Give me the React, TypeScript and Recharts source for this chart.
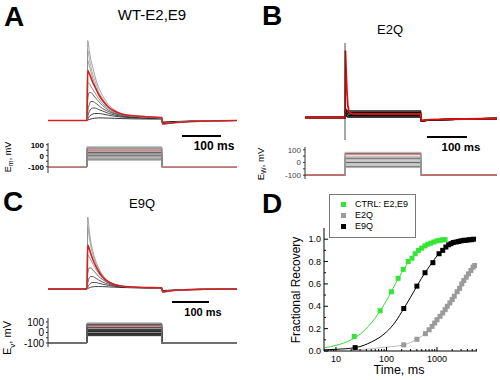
import React from "react";
import { LineChart, Line, XAxis, YAxis, ComposedChart, Scatter } from "recharts";

const FONT = "'Liberation Sans', Arial, Helvetica, sans-serif";

// ---- A: WT-E2,E9 current family (time in ms, amplitude in trace units) ----
const timeA = [0, 100, 102, 106, 110, 115, 120, 130, 140, 155, 170, 190, 215, 250, 292, 294, 310, 340, 400, 485];
const wtGray1 = [0, 0, 80, 70, 61, 53, 45, 33, 25, 16, 11, 6, 4.5, 3.5, 2.5, -3, -2.5, -1.5, -0.5, 0];
const wtGray2 = [0, 0, 70, 62, 54, 46, 40, 29, 22, 14, 9.5, 5.8, 4.4, 3.3, 2.4, -3, -2.5, -1.5, -0.5, 0];
const wtGray3 = [0, 0, 60, 55, 49, 42, 36, 27, 20.5, 13.5, 9.5, 6.2, 4.6, 3.5, 2.6, -3, -2.5, -1.5, -0.5, 0];
const wtRed = [0, 0, 50, 47, 43, 38, 34, 26, 20, 13.5, 9.5, 6.5, 5, 3.8, 3, -3.5, -2.8, -1.7, -0.6, 0];
const wtGray4 = [0, 0, 38, 37, 34, 31, 28, 22, 17, 12, 8.5, 6, 4.6, 3.5, 2.7, -3, -2.5, -1.5, -0.5, 0];
const wtDark1 = [0, 0, 22, 28, 28, 26, 23.5, 19, 15, 10.5, 7.5, 5.5, 4.2, 3.2, 2.5, -3, -2.5, -1.5, -0.5, 0];
const wtBlk1 = [0, 0, 9, 16, 19, 19, 18, 15, 12, 9, 6.8, 5, 3.8, 3, 2.3, -3, -2.5, -1.5, -0.5, 0];
const wtBlk2 = [0, 0, 4, 9, 11.5, 12.5, 12.5, 11, 9.5, 7.2, 5.6, 4.2, 3.3, 2.6, 2.1, -2.5, -2, -1.2, -0.4, 0];
const wtBlk3 = [0, 0, 1.5, 4, 5.5, 6.5, 7, 7, 6.5, 5.3, 4.3, 3.4, 2.8, 2.3, 1.9, -2, -1.6, -1, -0.3, 0];
const wtBlk4 = [0, 0, 0.5, 1, 1.5, 2, 2.3, 2.6, 2.6, 2.4, 2.2, 1.9, 1.7, 1.5, 1.4, -1.5, -1.2, -0.8, -0.3, 0];

// ---- B: E2Q ----
const timeB = [0, 100, 101, 103, 105, 107, 110, 115, 130, 200, 289, 291, 310, 400, 480];
const e2Red = [0, 0, 67, 45, 25, 12, 6, 4, 3.5, 3.5, 3.5, -3, -2.2, -1.5, -1];
const e2Blk1 = [0, 0, 1, 2, 1, 0.5, 0.5, 0.5, 0.5, 0.5, 0.5, -3.5, -2.5, -1.5, -1];
const e2Blk2 = [0, 0, 3, 4, 3, 2.5, 2, 2, 2, 2, 2, -3.5, -2.5, -1.5, -1];
const e2Blk3 = [0, 0, 5, 6, 4.5, 4, 3.5, 3.5, 3.5, 3.5, 3.5, -3.5, -2.5, -1.5, -1];
const e2Blk4 = [0, 0, 7, 7, 6, 5.5, 5, 5, 5, 5, 5, -3.5, -2.5, -1.5, -1];
const e2Blk5 = [0, 0, 9, 8, 7, 6.5, 6.5, 6.5, 6.5, 6.5, 6.5, -3.5, -2.5, -1.5, -1];
const spikeTime = [100, 100];
const spikeAmp = [74.5, -22.5];

// ---- C: E9Q ----
const timeC = [0, 100, 102, 106, 110, 115, 120, 130, 140, 155, 170, 190, 215, 250, 292, 294, 310, 340, 400, 485];
const e9Gray1 = [0, 0, 72, 58, 47, 38, 31, 21, 14, 8, 5, 3, 2, 1.5, 1.2, -3, -2, -1, -0.3, 0];
const e9Gray2 = [0, 0, 62, 51, 42, 34, 28, 19, 13, 7.5, 4.7, 2.9, 2, 1.5, 1.2, -3, -2, -1, -0.3, 0];
const e9Red = [0, 0, 44, 40, 35, 29.5, 25, 17.5, 12, 7, 4.5, 2.8, 2, 1.5, 1.2, -3, -2, -1, -0.3, 0];
const e9Gray3 = [0, 0, 34, 32, 29, 25, 21.5, 15.5, 11, 6.5, 4.3, 2.7, 1.9, 1.4, 1.1, -2.5, -1.8, -1, -0.3, 0];
const e9Dark1 = [0, 0, 16, 21, 21, 19, 17, 12.5, 9.5, 6, 4, 2.6, 1.9, 1.4, 1.1, -2.5, -1.8, -1, -0.3, 0];
const e9Blk1 = [0, 0, 6, 11, 12.5, 12.5, 11.5, 9, 7, 4.8, 3.4, 2.3, 1.7, 1.3, 1.1, -2.5, -1.8, -1, -0.3, 0];
const e9Blk2 = [0, 0, 2, 4.5, 6, 6.5, 6.5, 5.8, 4.8, 3.6, 2.7, 2, 1.5, 1.2, 1, -2, -1.5, -0.8, -0.3, 0];
const e9Blk3 = [0, 0, 0.5, 1.2, 1.8, 2.2, 2.4, 2.5, 2.4, 2.1, 1.8, 1.5, 1.2, 1, 0.9, -1.5, -1.2, -0.6, -0.2, 0];

// ---- voltage protocols (mV) ----
const pulseA = [0, 100, 100, 292, 292, 485];
const pulseB = [0, 100, 100, 290, 290, 480];
const pulseC = [0, 100, 100, 292, 292, 485];
const holdingMv = -100;
const levelsA = [-40, -30, -20, -10, 0, 10, 20, 30, 40, 60, 70, 80];
const levelsB = [-40, -30, -20, -10, 0, 10, 20, 30, 40, 50, 70, 80];
const levelsC = [-30, -20, -10, 0, 10, 20, 30, 40, 50, 70, 80, 90];
const redMvA = 50;
const redMvB = 65;
const redMvC = 60;
const mvTicks = [-100, -50, 0, 50, 100];

// ---- D: recovery (ms, fraction) ----
const ctrlTime = [23, 75, 125, 170, 215, 270, 320, 370, 430, 500, 580, 660, 760, 870, 1000, 1150, 1300, 1450];
const ctrlFrac = [0.13, 0.36, 0.53, 0.65, 0.73, 0.8, 0.83, 0.87, 0.9, 0.92, 0.94, 0.955, 0.965, 0.975, 0.985, 0.99, 0.995, 0.995];
const ctrlFitTime = [6, 10, 20, 30, 50, 75, 100, 150, 200, 300, 500, 700, 1000, 1500];
const ctrlFitFrac = [0.03, 0.05, 0.1, 0.15, 0.25, 0.36, 0.45, 0.6, 0.7, 0.82, 0.92, 0.96, 0.98, 0.995];

const e2qTime = [24, 220, 400, 590, 700, 800, 900, 1000, 1150, 1300, 1450, 1600, 1800, 2000, 2200, 2500, 2800, 3100, 3400, 3800, 4200, 4700, 5200, 5600];
const e2qFrac = [0.01, 0.055, 0.105, 0.155, 0.19, 0.22, 0.25, 0.28, 0.31, 0.34, 0.37, 0.4, 0.43, 0.46, 0.49, 0.53, 0.56, 0.6, 0.63, 0.66, 0.69, 0.72, 0.75, 0.765];
const e2qFitTime = [20, 50, 100, 220, 400, 600, 1000, 1500, 2000, 3000, 4000, 5600];
const e2qFitFrac = [0.005, 0.02, 0.035, 0.055, 0.105, 0.16, 0.27, 0.37, 0.46, 0.59, 0.68, 0.77];

const e9qTime = [24, 220, 400, 580, 830, 1100, 1300, 1500, 1700, 1900, 2100, 2400, 2700, 3000, 3400, 3800, 4300, 4800, 5300];
const e9qFrac = [0.03, 0.38, 0.58, 0.7, 0.79, 0.87, 0.9, 0.93, 0.95, 0.96, 0.97, 0.975, 0.98, 0.985, 0.99, 0.99, 0.995, 0.995, 1.0];
const e9qFitTime = [6, 10, 24, 50, 100, 150, 220, 300, 400, 600, 800, 1000, 1500, 2000, 3000, 5500];
const e9qFitFrac = [0.01, 0.015, 0.03, 0.08, 0.17, 0.26, 0.38, 0.48, 0.58, 0.71, 0.79, 0.85, 0.93, 0.96, 0.985, 1.0];

const logTicks = [6, 7, 8, 9, 10, 20, 30, 40, 50, 60, 70, 80, 90, 100, 200, 300, 400, 500, 600, 700, 800, 900, 1000, 2000, 3000, 4000, 5000, 6000];
const decades = [10, 100, 1000];
const fracTicks = [0, 0.1, 0.2, 0.3, 0.4, 0.5, 0.6, 0.7, 0.8, 0.9, 1.0];

type Row = Record<string, number | null>;

function toRows(times: number[], series: Record<string, number[]>): Row[] {
  return times.map((t, i) => {
    const row: Row = { t };
    Object.keys(series).forEach((k) => {
      row[k] = series[k][i];
    });
    return row;
  });
}

const toPoints = (xs: number[], ys: number[]) => xs.map((t, i) => ({ t, f: ys[i] }));

interface TraceStyle {
  key: string;
  color: string;
  width: number;
}

function Traces(props: {
  left: number;
  top: number;
  width: number;
  height: number;
  xMax: number;
  yDomain: [number, number];
  rows: Row[];
  styles: TraceStyle[];
  curve: "monotone" | "linear";
  extra?: React.ReactNode;
}) {
  const { left, top, width, height, xMax, yDomain, rows, styles, curve, extra } = props;
  return (
    <div style={{ position: "absolute", left, top }}>
      <LineChart width={width} height={height} data={rows} margin={{ top: 0, right: 0, bottom: 0, left: 0 }}>
        <XAxis type="number" dataKey="t" domain={[0, xMax]} hide allowDataOverflow />
        <YAxis type="number" domain={yDomain} hide allowDataOverflow />
        {styles.map((s) => (
          <Line
            key={s.key}
            type={curve}
            dataKey={s.key}
            stroke={s.color}
            strokeWidth={s.width}
            dot={false}
            isAnimationActive={false}
          />
        ))}
        {extra}
      </LineChart>
    </div>
  );
}

function Steps(props: {
  plotLeft: number;
  top: number;
  width: number;
  height: number;
  xMax: number;
  yDomain: [number, number];
  times: number[];
  levels: number[];
  redLevel: number;
  levelColor: (i: number) => string;
  holdColor: string;
  redColor: string;
  tickFont: { fontSize: number; fontWeight: string | number; fill: string };
}) {
  const { plotLeft, top, width, height, xMax, yDomain, times, levels, redLevel, levelColor, holdColor, redColor, tickFont } =
    props;
  const axisW = 30;
  const pad = 7;
  const rows = times.map((t, i) => {
    const inPulse = i === 2 || i === 3;
    const row: Row = { t, hold: inPulse ? null : holdingMv, red: inPulse ? redLevel : null };
    levels.forEach((L, j) => {
      row["L" + j] = inPulse ? L : holdingMv;
    });
    return row;
  });
  return (
    <div style={{ position: "absolute", left: plotLeft - axisW, top: top - pad }}>
      <LineChart
        width={width + axisW}
        height={height + 2 * pad}
        data={rows}
        margin={{ top: pad, right: 0, bottom: pad, left: 0 }}
      >
        <XAxis type="number" dataKey="t" domain={[0, xMax]} hide allowDataOverflow />
        <YAxis
          type="number"
          domain={yDomain}
          allowDataOverflow
          ticks={mvTicks}
          interval={0}
          width={axisW}
          tickSize={2}
          tickMargin={2}
          axisLine={{ stroke: "#333" }}
          tickLine={{ stroke: "#333" }}
          tickFormatter={(v: number) => (v % 100 === 0 ? String(v) : "")}
          tick={{ ...tickFont, fontFamily: FONT }}
        />
        {levels.map((_, j) => (
          <Line
            key={j}
            type="linear"
            dataKey={"L" + j}
            stroke={levelColor(j)}
            strokeWidth={1}
            dot={false}
            isAnimationActive={false}
          />
        ))}
        <Line type="linear" dataKey="red" stroke={redColor} strokeWidth={1} dot={false} isAnimationActive={false} />
        <Line type="linear" dataKey="hold" stroke={holdColor} strokeWidth={1} dot={false} isAnimationActive={false} />
      </LineChart>
    </div>
  );
}

function Txt(props: { x: number; y: number; size: number; bold?: boolean; rotate?: boolean; children: React.ReactNode }) {
  const { x, y, size, bold, rotate, children } = props;
  return (
    <div
      style={{
        position: "absolute",
        left: x,
        top: y,
        transform: `translate(-50%, -50%)${rotate ? " rotate(-90deg)" : ""}`,
        fontFamily: FONT,
        fontSize: size,
        fontWeight: bold ? "bold" : "normal",
        whiteSpace: "nowrap",
        lineHeight: 1.15,
        color: "#000",
      }}
    >
      {children}
    </div>
  );
}

const Letter = ({ x, y, ch }: { x: number; y: number; ch: string }) => (
  <div
    style={{ position: "absolute", left: x, top: y, fontFamily: FONT, fontSize: 28, fontWeight: "bold", lineHeight: "32px" }}
  >
    {ch}
  </div>
);

const Bar = ({ x, y, w }: { x: number; y: number; w: number }) => (
  <div style={{ position: "absolute", left: x, top: y, width: w, height: 2, background: "#000" }} />
);

const LogTick = (p: any) => {
  const v = p.payload.value;
  const major = decades.includes(v);
  return (
    <g>
      <line x1={p.x} x2={p.x} y1={p.y} y2={p.y - (major ? 4 : 2)} stroke="#000" />
      {major && (
        <text x={p.x} y={p.y + 11} textAnchor="middle" fontSize={9} fontFamily={FONT} fill="#000">
          {v}
        </text>
      )}
    </g>
  );
};

const FracTick = (p: any) => {
  const v = p.payload.value;
  const major = Math.round(v * 10) % 2 === 0;
  return (
    <g>
      <line x1={p.x} x2={p.x + (major ? 4 : 2)} y1={p.y} y2={p.y} stroke="#000" />
      {major && (
        <text x={p.x - 3} y={p.y + 3} textAnchor="end" fontSize={9} fontFamily={FONT} fill="#000">
          {v.toFixed(1)}
        </text>
      )}
    </g>
  );
};

const square = (color: string) => (p: any) => (
  <rect x={p.cx - 2.5} y={p.cy - 2.5} width={5} height={5} fill={color} />
);

export default function App() {
  const rowsA = toRows(timeA, {
    g1: wtGray1, g2: wtGray2, g3: wtGray3, g4: wtGray4, d1: wtDark1,
    b1: wtBlk1, b2: wtBlk2, b3: wtBlk3, b4: wtBlk4, r: wtRed,
  });
  const rowsC = toRows(timeC, {
    g1: e9Gray1, g2: e9Gray2, g3: e9Gray3, d1: e9Dark1,
    b1: e9Blk1, b2: e9Blk2, b3: e9Blk3, r: e9Red,
  });
  const rowsB = toRows(timeB, { b1: e2Blk1, b2: e2Blk2, b3: e2Blk3, b4: e2Blk4, b5: e2Blk5, r: e2Red });
  const spike = spikeTime.map((t, i) => ({ t, sp: spikeAmp[i] }));

  const familyStyles: TraceStyle[] = [
    { key: "b4", color: "#000", width: 0.8 },
    { key: "b3", color: "#111", width: 0.8 },
    { key: "b2", color: "#222", width: 0.8 },
    { key: "b1", color: "#333", width: 0.8 },
    { key: "d1", color: "#444", width: 0.8 },
    { key: "g4", color: "#777", width: 0.8 },
    { key: "g3", color: "#888", width: 0.8 },
    { key: "g2", color: "#999", width: 0.8 },
    { key: "g1", color: "#8a8a8a", width: 0.8 },
    { key: "r", color: "#d42020", width: 1.6 },
  ];

  return (
    <div style={{ position: "absolute", left: 0, top: 0, width: 500, height: 380, background: "#fff", overflow: "hidden" }}>
      {/* Panel A */}
      <Letter x={4} y={1} ch="A" />
      <Txt x={152} y={15} size={15}>WT-E2,E9</Txt>
      <Traces
        left={48} top={30} width={189} height={100} xMax={485} yDomain={[-9.5, 90.5]}
        rows={rowsA} styles={familyStyles} curve="monotone"
      />
      <Bar x={182} y={135} w={39} />
      <Txt x={214} y={147} size={12} bold>100 ms</Txt>
      <Steps
        plotLeft={48} top={143} width={189} height={30} xMax={485} yDomain={[-157, 115.5]}
        times={pulseA} levels={levelsA} redLevel={redMvA}
        levelColor={(j) => (j % 3 === 1 ? "#555" : "#999")}
        holdColor="#f08080" redColor="#e05050"
        tickFont={{ fontSize: 8, fontWeight: "bold", fill: "#000" }}
      />
      <Txt x={9} y={157} size={9} rotate>E<sub style={{ fontSize: 7 }}>m</sub>, mV</Txt>

      {/* Panel B */}
      <Letter x={262} y={0} ch="B" />
      <Txt x={390} y={30} size={13}>E2Q</Txt>
      <Traces
        left={305} top={35} width={192} height={110} xMax={480} yDomain={[-27.5, 82.5]}
        rows={rowsB}
        styles={[
          { key: "b1", color: "#000", width: 1.3 },
          { key: "b2", color: "#000", width: 1.3 },
          { key: "b3", color: "#111", width: 1.3 },
          { key: "b4", color: "#000", width: 1.3 },
          { key: "b5", color: "#222", width: 1.3 },
          { key: "r", color: "#dd1010", width: 1.8 },
        ]}
        curve="linear"
        extra={
          <Line data={spike} type="linear" dataKey="sp" stroke="#222" strokeWidth={0.8} dot={false} isAnimationActive={false} />
        }
      />
      <Bar x={427} y={136} w={40} />
      <Txt x={461} y={148} size={11.5} bold>100 ms</Txt>
      <Steps
        plotLeft={305} top={147} width={192} height={32} xMax={480} yDomain={[-130, 122]}
        times={pulseB} levels={levelsB} redLevel={redMvB}
        levelColor={(j) => (j % 3 === 1 ? "#666" : "#aaa")}
        holdColor="#e05050" redColor="#e06060"
        tickFont={{ fontSize: 8, fontWeight: "normal", fill: "#444" }}
      />
      <Txt x={262} y={164} size={9.5} rotate>E<sub style={{ fontSize: 7 }}>W</sub>, mV</Txt>

      {/* Panel C */}
      <Letter x={3} y={186} ch="C" />
      <Txt x={142} y={204} size={13}>E9Q</Txt>
      <Traces
        left={48} top={210} width={189} height={90} xMax={485} yDomain={[-11, 79]}
        rows={rowsC} styles={familyStyles.filter((s) => s.key !== "b4" && s.key !== "g4")} curve="monotone"
      />
      <Bar x={172} y={301} w={37} />
      <Txt x={203} y={312} size={11} bold>100 ms</Txt>
      <Steps
        plotLeft={48} top={318} width={189} height={29} xMax={485} yDomain={[-138, 138]}
        times={pulseC} levels={levelsC} redLevel={redMvC}
        levelColor={(j) => (j % 4 === 3 ? "#888" : "#222")}
        holdColor="#888" redColor="#e06070"
        tickFont={{ fontSize: 10, fontWeight: "normal", fill: "#000" }}
      />
      <Txt x={9} y={338} size={11} rotate>E<sub style={{ fontSize: 8 }}>v</sub>, mV</Txt>

      {/* Panel D */}
      <Letter x={262} y={188} ch="D" />
      <div style={{ position: "absolute", left: 284, top: 218 }}>
        <ComposedChart width={203} height={163} margin={{ top: 10, right: 10, bottom: 0, left: 0 }}>
          <XAxis
            type="number" dataKey="t" scale="log" domain={[5.8, 6200]} allowDataOverflow
            ticks={logTicks} interval={0} tick={(p: any) => <LogTick {...p} />}
            tickLine={false} tickSize={0} tickMargin={0} height={30} axisLine={{ stroke: "#000" }}
          />
          <YAxis
            type="number" dataKey="f" domain={[0, 1.1]} allowDataOverflow
            ticks={fracTicks} interval={0} tick={(p: any) => <FracTick {...p} />}
            tickLine={false} tickSize={0} tickMargin={0} width={40} axisLine={{ stroke: "#000" }}
          />
          <Line data={toPoints(e2qFitTime, e2qFitFrac)} type="monotone" dataKey="f" stroke="#bbb" strokeWidth={1} dot={false} isAnimationActive={false} />
          <Line data={toPoints(e9qFitTime, e9qFitFrac)} type="monotone" dataKey="f" stroke="#000" strokeWidth={1} dot={false} isAnimationActive={false} />
          <Line data={toPoints(ctrlFitTime, ctrlFitFrac)} type="monotone" dataKey="f" stroke="#33dd33" strokeWidth={1} dot={false} isAnimationActive={false} />
          <Scatter data={toPoints(e2qTime, e2qFrac)} dataKey="f" shape={square("#9a9a9a")} isAnimationActive={false} />
          <Scatter data={toPoints(e9qTime, e9qFrac)} dataKey="f" shape={square("#000")} isAnimationActive={false} />
          <Scatter data={toPoints(ctrlTime, ctrlFrac)} dataKey="f" shape={square("#33e633")} isAnimationActive={false} />
        </ComposedChart>
      </div>
      <Txt x={297} y={290} size={12} rotate>Fractional Recovery</Txt>
      <Txt x={399} y={370} size={12.5}>Time, ms</Txt>
      <div
        style={{
          position: "absolute", left: 329, top: 194, width: 85, height: 42,
          border: "1px solid #777", background: "#fff", fontFamily: FONT, fontSize: 9,
        }}
      >
        {[
          { c: "#33e633", l: "CTRL: E2,E9" },
          { c: "#9a9a9a", l: "E2Q" },
          { c: "#000", l: "E9Q" },
        ].map((it, i) => (
          <div key={i} style={{ position: "absolute", left: 11, top: 5 + i * 11, display: "flex", alignItems: "center", lineHeight: 1 }}>
            <span style={{ display: "inline-block", width: 5, height: 5, background: it.c, marginRight: 9 }} />
            <span>{it.l}</span>
          </div>
        ))}
      </div>
    </div>
  );
}
